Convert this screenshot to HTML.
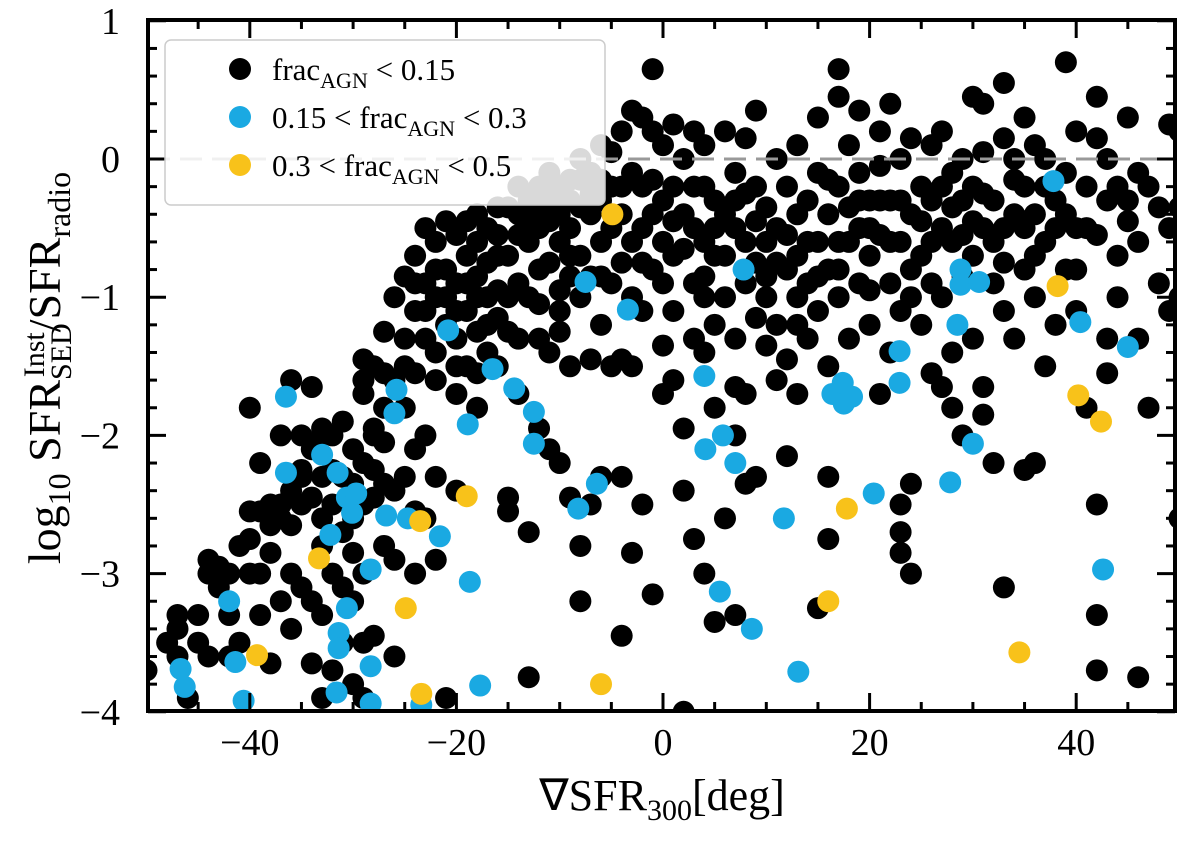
<!DOCTYPE html>
<html><head><meta charset="utf-8"><style>
html,body{margin:0;padding:0;background:#fff;}
svg text{font-family:"Liberation Serif",serif;fill:#000;}
</style></head><body>
<svg id="chart" width="1200" height="847" viewBox="0 0 1200 847" xmlns="http://www.w3.org/2000/svg">
<defs><clipPath id="clip"><rect x="148" y="20" width="1027" height="691"/></clipPath></defs>
<g id="marks" clip-path="url(#clip)"></g>
<line id="zline" stroke="#999" stroke-width="3" stroke-dasharray="22,10"/>
<g id="axes"></g>
<g>
<rect x="165" y="40" width="440" height="165" rx="6" fill="#fff" fill-opacity="0.85" stroke="#ccc" stroke-width="1.5"/>
<g><circle cx="240" cy="69" r="11" fill="#000"/><text x="272" y="80" font-size="31">frac<tspan font-size="22" dy="8">AGN</tspan><tspan dy="-8"> &lt; 0.15</tspan></text></g>
<g><circle cx="240" cy="117" r="11" fill="#1aa9e2"/><text x="272" y="128" font-size="31">0.15 &lt; frac<tspan font-size="22" dy="8">AGN</tspan><tspan dy="-8"> &lt; 0.3</tspan></text></g>
<g><circle cx="240" cy="165" r="11" fill="#f8c21a"/><text x="272" y="176" font-size="31">0.3 &lt; frac<tspan font-size="22" dy="8">AGN</tspan><tspan dy="-8"> &lt; 0.5</tspan></text></g>
</g>
<text x="662" y="810" font-size="44" text-anchor="middle">∇SFR<tspan font-size="30" dy="10">300</tspan><tspan dy="-10">[deg]</tspan></text>
<text transform="translate(60,368) rotate(-90)" font-size="46" text-anchor="middle">log<tspan font-size="32" dy="10">10</tspan><tspan dy="-10"> SFR</tspan><tspan font-size="30" dy="11">SED</tspan><tspan font-size="30" dx="-54" dy="-27">Inst</tspan><tspan dy="16">/SFR</tspan><tspan font-size="32" dy="10">radio</tspan></text>
</svg>
<script>
const xTicks=[-40,-20,0,20,40];
const yTicks=[1,0,-1,-2,-3,-4];
const blackX=[-50,-48,-47,-47,-47,-46,-45,-44,-44,-43,-43,-42,-42,-41,-41,-40,-40,-40,-40,-39,-39,-39,-38,-38,-38,-37,-37,-37,-36,-36,-36,-36,-35,-35,-35,-34,-34,-34,-34,-34,-33,-33,-33,-33,-33,-33,-32,-32,-32,-32,-31,-31,-31,-31,-31,-30,-30,-30,-30,-29,-29,-29,-29,-29,-29,-29,-28,-28,-28,-28,-28,-27,-27,-27,-27,-26,-26,-26,-26,-25,-25,-25,-25,-24,-24,-24,-24,-24,-23,-23,-23,-23,-23,-22,-22,-22,-22,-22,-21,-21,-21,-21,-20,-20,-20,-20,-20,
-19,-19,-19,-19,-18,-18,-18,-18,-17,-17,-17,-17,-16,-16,-16,-16,-15,-15,-15,-15,-15,-14,-14,-14,-14,-13,-13,-13,-13,-13,-12,-12,-12,-12,-12,-11,-11,-11,-11,-11,-10,-10,-10,-10,-10,-9,-9,-9,-9,-8,-8,-8,-8,-8,-8,-7,-7,-7,-7,-7,-6,-6,-6,-6,-6,-5,-5,-5,-5,-4,-4,-4,-4,-4,-3,-3,-3,-3,-3,-3,-2,-2,-2,-2,-2,-1,-1,-1,-1,-1,0,0,0,0,0,1,1,1,1,1,2,2,2,2,2,3,3,3,3,3,4,4,4,4,4,4,5,5,5,5,5,6,6,6,6,7,7,7,7,7,7,8,8,8,8,8,9,9,9,9,9,10,10,10,10,11,11,11,11,12,12,12,12,13,13,13,13,13,14,14,14,15,15,15,15,15,16,16,16,16,16,17,17,17,17,17,18,18,18,19,19,19,19,20,20,20,21,21,21,21,22,22,22,22,23,23,23,23,23,23,24,24,24,24,24,25,25,25,26,26,26,26,27,27,27,27,28,28,28,28,29,29,29,29,30,30,30,30,31,31,31,31,31,32,32,32,33,33,33,33,33,34,34,34,35,35,35,35,36,36,36,36,37,37,37,38,38,39,39,39,40,40,40,41,41,42,42,42,42,42,42,43,43,43,44,44,45,45,45,46,46,46,46,47,47,48,48,49,49,49,50,50,50,50,
-9,-8,-7,-6,-5,-4,-12,-14,-10,-11,-9,-13,-16,-18,-20,-22,-17,-15,
-26,-24,-23,-21,-19,-18,-16,-14,-12,-10,-9,-6,-4,-2,-1,0,1,2,3,4,5,6,7,8,9,10,11,12,13,14,15,16,17,18,19,20,20,21,22,23,24,25,26,27,28,29,30,31,32,33,34,35,36,37,38,39,40,41,43,44,-35,-32,-30,-28,-27,-36,-38,-33,-30,-24,-22,-20,-18,-25,-27,-29,-39,-42,-45,-44,-37,-35];
const blackY=[-3.7,-3.5,-3.3,-3.4,-3.6,-3.9,-3.5,-3.0,-2.9,-3.1,-2.95,-3.3,-3.6,-3.5,-2.8,-2.75,-3.0,-2.55,-1.8,-2.2,-2.55,-3.3,-2.5,-2.85,-3.65,-2.6,-2.0,-2.5,-1.6,-2.65,-3.0,-3.4,-2.3,-2.5,-2.0,-1.65,-2.1,-2.45,-3.2,-3.65,-1.95,-2.0,-2.3,-2.8,-3.3,-3.9,-2.0,-2.5,-3.0,-3.7,-1.9,-2.3,-2.7,-3.1,-3.5,-2.1,-2.6,-3.2,-3.8,-1.45,-1.7,-2.2,-2.5,-3.0,-3.5,-3.9,-1.5,-1.95,-2.0,-2.45,-3.45,-1.25,-1.55,-2.35,-2.8,-1.6,-2.4,-2.9,-3.6,-0.85,-1.3,-1.8,-2.3,-0.7,-1.1,-1.55,-2.55,-3.0,-0.5,-0.9,-1.3,-2.0,-2.6,-0.6,-1.0,-1.4,-2.3,-2.9,-0.45,-0.8,-1.2,-3.9,-0.55,-0.9,-1.3,-1.7,-2.4,
-0.45,-0.7,-1.1,-1.5,-0.6,-0.85,-1.25,-1.8,-0.5,-0.75,-1.0,-1.4,-0.55,-0.95,-1.15,-1.5,-0.35,-0.7,-1.0,-2.45,-2.55,-0.4,-0.9,-1.3,-1.7,-0.3,-0.6,-1.0,-2.7,-3.75,-0.2,-0.5,-0.8,-1.3,-1.95,-0.1,-0.45,-0.75,-1.4,-2.1,-0.2,-0.6,-0.95,-1.25,-2.2,-0.3,-0.5,-1.5,-2.45,0.0,-0.35,-0.7,-1.0,-2.8,-3.2,-0.1,-0.4,-0.85,-1.45,-2.5,0.1,-0.3,-0.6,-1.2,-2.3,0.05,-0.5,-0.9,-1.5,0.2,-0.2,-1.45,-2.3,-3.45,0.35,-0.1,-0.6,-1.0,-1.5,-2.85,0.3,-0.2,-0.5,-1.1,-2.5,0.65,0.2,-0.4,-0.8,-3.15,0.1,-0.3,-0.6,-1.35,-1.7,0.25,-0.2,-0.7,-1.1,-1.6,0.0,-0.4,-1.95,-2.4,-4.0,0.2,-0.5,-0.9,-1.3,-2.75,0.1,-0.2,-0.6,-1.0,-1.4,-3.0,-0.3,-0.7,-1.2,-1.8,-3.35,0.2,-0.4,-1.0,-2.6,-0.1,-0.5,-1.3,-1.65,-2.0,-3.3,0.15,-0.6,-0.9,-1.7,-2.35,0.35,-0.2,-0.75,-1.15,-2.3,-0.35,-0.6,-1.0,-1.35,0.0,-0.5,-1.2,-1.6,-0.2,-0.8,-1.45,-2.15,0.1,-0.4,-0.7,-1.0,-1.7,-0.3,-0.9,-1.3,0.3,-0.1,-0.6,-1.1,-3.25,-0.4,-0.8,-1.5,-2.75,-2.3,0.65,0.45,-0.2,-0.6,-1.0,0.1,-0.35,-1.3,0.35,-0.1,-0.5,-0.9,-0.3,-0.7,-1.2,0.2,-0.05,-0.55,-1.7,0.4,-0.3,-0.9,-1.4,0.0,-0.6,-1.1,-2.5,-2.7,-2.85,0.15,-0.4,-0.8,-2.35,-3.0,-0.2,-0.7,-1.2,0.1,-0.3,-0.9,-1.55,0.2,-0.5,-1.0,-1.65,-0.1,-0.6,-1.4,-1.8,0.0,-0.3,-0.85,-2.0,0.45,-0.2,-0.7,-1.3,0.4,0.05,-0.5,-1.65,-1.85,-0.3,-0.9,-2.2,0.55,0.15,-0.5,-1.1,-3.1,0.0,-0.4,-1.3,0.3,-0.2,-0.8,-2.25,0.1,-0.4,-1.0,-2.2,0.0,-0.6,-1.5,-0.3,-1.2,0.7,-0.1,-0.8,0.2,-0.5,-1.1,-0.2,-1.8,0.45,0.15,-0.55,-3.3,-3.7,-2.5,0.0,-1.3,-1.55,-0.7,-1.0,0.3,-0.45,-0.3,-0.1,-0.6,-1.3,-3.75,-0.2,-1.8,-0.9,-0.35,0.25,-0.5,-1.1,-0.35,-2.6,-1.0,0.2,
-0.15,-0.15,-0.25,-0.15,-0.2,-0.4,-0.35,-0.2,-0.4,-0.3,-0.7,-0.45,-0.7,-1.0,-1.1,-0.8,-1.2,-1.25,
-1.0,-0.9,-1.1,-1.0,-0.9,-0.4,-0.35,-0.55,-1.05,-1.1,-0.85,-0.85,-0.75,-0.75,-0.15,-0.9,-0.45,-0.65,-0.2,-0.85,-0.5,-0.7,-0.3,-0.25,-0.45,-0.85,-0.75,-0.55,-1.2,-0.6,-0.85,-0.15,-0.8,-0.6,-0.3,-0.5,-0.95,-0.3,-0.6,-0.3,-1.0,-0.45,-0.6,-0.2,-0.35,-0.55,-0.45,-0.25,-0.6,-0.75,-0.15,-0.5,-0.7,-0.2,-0.5,-0.4,-0.8,-0.5,-0.3,-0.2,-2.25,-2.25,-2.35,-2.25,-2.05,-2.4,-2.65,-2.6,-2.85,-2.1,-1.6,-1.5,-1.55,-1.5,-1.8,-1.6,-3.0,-3.0,-3.3,-3.6,-3.2,-3.1];
const cyanX=[-36.5,-36.5,-33,-31.5,-30.6,-29.7,-30.1,-32.2,-25.8,-26,-26.8,-24.7,-21.6,-20.8,-18.9,-18.7,-16.5,-14.4,-12.5,-12.5,-7.5,-3.4,-8.2,-6.4,-42,-41.4,-46.7,-46.3,-40.6,-31.6,-30.6,-31.4,-31.4,-28.3,-28.3,-28.3,-23.4,-17.7,4.1,5.8,7,5.5,4,8.6,7.8,11.7,13.1,16.4,17.4,17.5,18.3,20.4,22.9,22.9,27.8,28.5,28.8,28.8,30.6,30,37.8,40.4,45,42.6];
const cyanY=[-1.72,-2.27,-2.14,-2.27,-2.45,-2.42,-2.56,-2.72,-1.67,-1.84,-2.58,-2.6,-2.73,-1.24,-1.92,-3.06,-1.52,-1.66,-1.83,-2.06,-0.89,-1.09,-2.53,-2.35,-3.2,-3.64,-3.69,-3.82,-3.92,-3.86,-3.25,-3.43,-3.54,-2.97,-3.67,-3.94,-3.95,-3.81,-2.1,-2.0,-2.2,-3.13,-1.57,-3.4,-0.8,-2.6,-3.71,-1.7,-1.62,-1.77,-1.72,-2.42,-1.39,-1.62,-2.34,-1.2,-0.8,-0.91,-0.89,-2.06,-0.16,-1.18,-1.36,-2.97];
const yellowX=[-4.9,-33.3,-23.5,-24.9,-39.3,-23.4,-19,-6,17.8,16,34.5,38.2,40.2,42.4];
const yellowY=[-0.4,-2.89,-2.62,-3.25,-3.59,-3.87,-2.44,-3.8,-2.53,-3.2,-3.57,-0.92,-1.71,-1.9];

const L=148,R=1175,T=20,B=711;
function sx(v){return 663+v*10.33;}
function sy(v){return 159-v*138.2;}
const NS='http://www.w3.org/2000/svg';
const marks=document.getElementById('marks');
function dots(xs,ys,color,name){
  for(let i=0;i<xs.length;i++){
    const c=document.createElementNS(NS,'circle');
    c.setAttribute('cx',sx(xs[i]));c.setAttribute('cy',sy(ys[i]));c.setAttribute('r',11);c.setAttribute('fill',color);
    
    
    marks.appendChild(c);
  }
}
dots(blackX,blackY,'#000','point-low-agn');
dots(cyanX,cyanY,'#1aa9e2','point-mid-agn');
dots(yellowX,yellowY,'#f8c21a','point-high-agn');
const z=document.getElementById('zline');
z.setAttribute('x1',L);z.setAttribute('x2',R);z.setAttribute('y1',sy(0));z.setAttribute('y2',sy(0));
const ax=document.getElementById('axes');
function line(x1,y1,x2,y2,w,name){
  const l=document.createElementNS(NS,'line');
  l.setAttribute('x1',x1);l.setAttribute('y1',y1);l.setAttribute('x2',x2);l.setAttribute('y2',y2);
  l.setAttribute('stroke','#000');l.setAttribute('stroke-width',w);
  
  
  ax.appendChild(l);
}
function txt(x,y,s,anchor,name){
  const t=document.createElementNS(NS,'text');
  t.setAttribute('x',x);t.setAttribute('y',y);t.setAttribute('font-size','38');t.setAttribute('text-anchor',anchor);
  t.textContent=s;
  
  
  ax.appendChild(t);
}
for(let v=-50;v<=50;v+=5){
  const x=sx(v); if(x<L||x>R)continue;
  const major=v%20===0;const len=major?18:9;
  line(x,B,x,B-len,3,'x-tick');line(x,T,x,T+len,3,'x-tick');
}
for(let k=0;k<=25;k++){
  const v=-4+k*0.2; const y=sy(v);
  const major=Math.abs(v-Math.round(v))<1e-6;const len=major?18:9;
  line(L,y,L+len,y,3,'y-tick');line(R,y,R-len,y,3,'y-tick');
}
xTicks.forEach(v=>txt(sx(v),755,(v<0?'−':'')+Math.abs(v),'middle','x-tick-label'));
yTicks.forEach(v=>txt(120,sy(v)+13,(v<0?'−':'')+Math.abs(v),'end','y-tick-label'));
const fr=document.createElementNS(NS,'rect');
fr.setAttribute('x',L);fr.setAttribute('y',T);fr.setAttribute('width',R-L);fr.setAttribute('height',B-T);
fr.setAttribute('fill','none');fr.setAttribute('stroke','#000');fr.setAttribute('stroke-width',4);


ax.appendChild(fr);
</script>
</body></html>
